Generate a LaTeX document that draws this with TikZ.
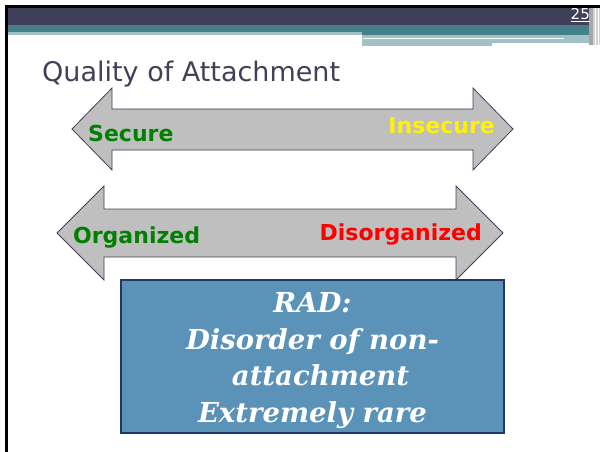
\documentclass[tikz,border=0pt]{standalone}
\usepackage{fontspec}
\setmainfont{DejaVu Serif}
\setsansfont{DejaVu Sans}
\definecolor{hdrdark}{HTML}{40405A}
\definecolor{hdrteal}{HTML}{44808A}
\definecolor{hdrlight}{HTML}{A0C1C6}
\definecolor{titlegray}{HTML}{404058}
\definecolor{arrowgray}{HTML}{BFBFBF}
\definecolor{arrowline}{HTML}{40405E}
\definecolor{boxblue}{HTML}{5B92B7}
\definecolor{boxline}{HTML}{1F3864}
\definecolor{labelgreen}{HTML}{008000}
\tikzset{
  bigarrow/.style={fill=arrowgray,draw=arrowline,line width=0.8pt,line join=miter},
  endlabel/.style={inner sep=0pt,font=\sffamily\bfseries\fontsize{22}{26}\selectfont},
  radbox/.style={fill=boxblue,draw=boxline,line width=2pt,minimum width=383pt,minimum height=153pt,inner sep=0pt},
  radtext/.style={inner sep=0pt,text=white,align=center,font=\bfseries\itshape\fontsize{27.5}{36.7}\selectfont}
}
\begin{document}
\begin{tikzpicture}[x=1pt,y=-1pt]
	\useasboundingbox (0,0) rectangle (603,452);
	% header bars
	\fill[hdrdark] (8,8) rectangle (592,25);
	\fill[hdrteal] (8,25) rectangle (592,32);
	\fill[hdrlight] (8,32) rectangle (362,35);
	\fill[hdrteal] (362,32) rectangle (592,35);
	\fill[hdrlight] (362,35) rectangle (593,43);
	\fill[hdrlight] (362,43) rectangle (492,45.7);
	\fill[white] (363,37.8) rectangle (564,39.2);
	\fill[gray!70] (589,8) rectangle (593,45);
	\fill[gray!35] (593,8) rectangle (600,45);
	\draw[white,line width=0.6pt] (595,8) -- (595,45) (598,8) -- (598,45);
	\node[inner sep=0pt,anchor=base east,text=white,font=\sffamily\fontsize{15}{18}\selectfont] (pgnum) at (590,20) {\underline{25}};
	% frame
	\draw[black,line width=3pt] (6.5,452) -- (6.5,6.5) -- (600,6.5);
	% title
	\node[inner sep=0pt,anchor=base west,text=titlegray,font=\sffamily\fontsize{27}{32}\selectfont] (title) at (42,82) {Quality of Attachment};
	% first arrow
	\draw[bigarrow] (72,129) -- (112,88) -- (112,109) -- (473,109) -- (473,88) -- (513,129)
		-- (473,170) -- (473,150) -- (112,150) -- (112,170) -- cycle;
	\node[endlabel,anchor=base west,text=labelgreen] (secure) at (88,141) {Secure};
	\node[endlabel,anchor=base east,text=yellow] (insecure) at (495,133) {Insecure};
	% second arrow
	\draw[bigarrow] (57,233) -- (104,186) -- (104,209) -- (456,209) -- (456,186) -- (503,233)
		-- (456,280) -- (456,257) -- (104,257) -- (104,280) -- cycle;
	\node[endlabel,anchor=base west,text=labelgreen] (organized) at (73,243) {Organized};
	\node[endlabel,anchor=base east,text=red] (disorganized) at (482,240) {Disorganized};
	% RAD box
	\node[radbox] (rad) at (312.5,356.5) {};
	\node[radtext] (radtxt) at ([yshift=-4pt]rad.center) {RAD:\\Disorder of non-\\\hspace*{16pt}attachment\\Extremely rare};
\end{tikzpicture}
\end{document}
